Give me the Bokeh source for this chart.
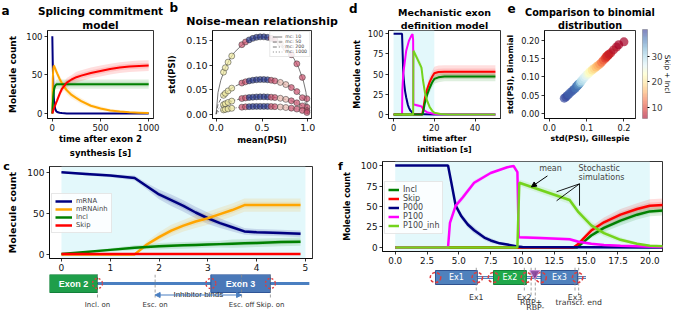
import math
import numpy as np
from bokeh.plotting import figure
from bokeh.layouts import column, row
from bokeh.models import (Range1d, FixedTicker, PrintfTickFormatter, Label, BoxAnnotation, Title,
                          Arrow, NormalHead, ColorBar, LinearColorMapper, ColumnDataSource)
from bokeh.core.properties import value
from bokeh.embed import file_html
from bokeh.resources import INLINE

# ======================= DATA =======================
# (a) splicing commitment model
a_t = [0, 5, 10, 15, 20, 30, 40, 50, 75, 100, 150, 200, 250, 300, 400, 500, 600, 700, 800, 900, 1000]
a_mrna = [100, 62, 38, 22, 13, 6, 3, 2, 1, 0.5, 0, 0, 0, 0, 0, 0, 0, 0, 0, 0, 0]
a_inh = [0, 45, 58, 62, 61, 58, 55, 52, 45, 39, 30, 24, 20, 16, 10, 6.5, 4, 2.5, 1.5, 1, 0.5]
a_incl = [0, 12, 22, 28, 32, 36, 37.5, 38, 38, 38, 38, 38, 38, 38, 38, 38, 38, 38, 38, 38, 38]
a_skip = [0, 2, 4, 6, 7.5, 11, 14, 17, 25, 32, 40, 44, 47, 49, 52.5, 55, 57.5, 59.5, 60.8, 61.5, 62]
a_sd_inh = [0, 4, 5, 5, 5, 5, 5, 5, 5, 5, 5, 5, 4, 4, 3, 3, 2, 2, 1, 1, 1]
a_sd_incl = [0, 3, 4, 5, 5, 5, 6, 6, 6, 6, 6, 6, 6, 6, 6, 6, 6, 6, 6, 6, 6]
a_sd_skip = [0, 1, 2, 2, 3, 3, 4, 4, 5, 5, 6, 6, 7, 7, 7, 7, 7, 7, 7, 7, 7]
a_xticks = [0, 500, 1000]
a_yticks = [0, 50, 100]

# (b) noise-mean relationship
b_p = [0, 0.02, 0.05, 0.1, 0.15, 0.2, 0.3, 0.4, 0.5, 0.6, 0.7, 0.8, 0.85, 0.9, 0.95, 0.98, 1.0]
b_c10 = [0, 0.0443, 0.0689, 0.0949, 0.1129, 0.1265, 0.1449, 0.1549, 0.1581, 0.1549, 0.1449, 0.1265, 0.1129, 0.0949, 0.0689, 0.0443, 0]
b_c50 = [0, 0.0198, 0.0308, 0.0424, 0.0505, 0.0566, 0.0648, 0.0693, 0.0707, 0.0693, 0.0648, 0.0566, 0.0505, 0.0424, 0.0308, 0.0198, 0]
b_c200 = [0, 0.0099, 0.0154, 0.0212, 0.0252, 0.0283, 0.0324, 0.0346, 0.0354, 0.0346, 0.0324, 0.0283, 0.0252, 0.0212, 0.0154, 0.0099, 0]
b_c1000 = [0, 0.0044, 0.0069, 0.0095, 0.0113, 0.0126, 0.0145, 0.0155, 0.0158, 0.0155, 0.0145, 0.0126, 0.0113, 0.0095, 0.0069, 0.0044, 0]
b_mc_labels = ["mc: 10", "mc: 50", "mc: 200", "mc: 1000"]
b_mean = [0.08, 0.10, 0.13, 0.17, 0.28, 0.32, 0.36, 0.40, 0.44, 0.48, 0.52, 0.56, 0.60, 0.64, 0.70, 0.76, 0.82, 0.88, 0.94, 0.99]
b_s10 = [0.0858, 0.0949, 0.1063, 0.1188, 0.1420, 0.1475, 0.1518, 0.1549, 0.1570, 0.1580, 0.1580, 0.1570, 0.1549, 0.1518, 0.1449, 0.1350, 0.1215, 0.1028, 0.0751, 0.0315]
b_s50 = [0.0384, 0.0424, 0.0475, 0.0531, 0.0635, 0.0660, 0.0679, 0.0693, 0.0702, 0.0707, 0.0707, 0.0702, 0.0693, 0.0679, 0.0648, 0.0604, 0.0543, 0.0460, 0.0336, 0.0141]
b_s200 = [0.0192, 0.0212, 0.0238, 0.0266, 0.0318, 0.0330, 0.0339, 0.0346, 0.0351, 0.0353, 0.0353, 0.0351, 0.0346, 0.0339, 0.0324, 0.0302, 0.0272, 0.0230, 0.0168, 0.0070]
b_s1000 = [0.0086, 0.0095, 0.0106, 0.0119, 0.0142, 0.0148, 0.0152, 0.0155, 0.0157, 0.0158, 0.0158, 0.0157, 0.0155, 0.0152, 0.0145, 0.0135, 0.0122, 0.0103, 0.0075, 0.0032]
b_group = ["lo", "lo", "lo", "lo", "mid", "mid", "hi", "hi", "hi", "hi", "hi", "hi", "mid", "mid", "pale", "pale", "mid", "mid", "mid", "mid"]
b_xticks = [0, 0.5, 1.0]
b_yticks = [0, 0.05, 0.10, 0.15]

# (c) zoom of (a)
c_t = [0, 0.5, 1.0, 1.5, 1.75, 2.0, 2.25, 2.5, 2.75, 3.0, 3.25, 3.5, 3.75, 4.0, 4.5, 4.9]
c_mrna = [100, 98, 96, 93, 83, 73, 66, 59, 51, 44, 38, 33, 28, 27, 26, 25]
c_inh = [0, 0, 0, 0, 12, 21, 29, 35, 40, 44, 49, 54, 60, 60, 60, 60]
c_incl = [0.5, 3, 5.5, 8, 9, 10, 10.5, 11, 11.5, 12, 12.5, 13, 13.5, 14, 15, 15.5]
c_skip = [0.5, 0.5, 0.5, 0.5, 0.5, 0.5, 0.5, 0.5, 0.5, 0.5, 0.5, 0.5, 0.5, 0.5, 0.5, 0.5]
c_sd_mrna = [1, 2, 2, 3, 4, 6, 7, 7, 7, 7, 6, 5, 4, 4, 4, 4]
c_sd_inh = [0, 0, 0, 0, 4, 6, 7, 7, 8, 8, 8, 8, 8, 8, 8, 8]
c_sd_incl = [0.5, 1, 2, 3, 3, 4, 4, 4, 4, 4, 4, 5, 5, 5, 5, 5]
c_xticks = [0, 1, 2, 3, 4, 5]
c_yticks = [0, 50, 100]
c_exon3 = (2.95, 4.5)
c_sites = [0, 2.95, 4.5]
c_events_t = [0, 1.5, 3.75, 4.5]
c_events_lab = ["Incl. on", "Esc. on", "Esc. off", "Skip. on"]
c_inhib = (1.5, 3.75)

# (d)/(f) mechanistic exon definition model
f_t_p000 = [0, 4.15, 4.4, 4.75, 5.2, 5.7, 6.2, 7.0, 7.5, 8.2, 8.8, 9.6, 10.0, 20, 50]
f_p000 = [100, 100, 80, 51, 38, 28, 21, 12, 8.5, 5, 3.5, 1.2, 0.5, 0, 0]
f_sd_p000 = [0, 0, 3, 4, 4, 4, 4, 3, 3, 2, 2, 1, 0.5, 0, 0]
f_t_p100 = [0, 4.15, 4.3, 4.75, 5.3, 6.2, 7.5, 8.8, 9.3, 9.6, 9.7, 11.4, 13.7, 14.4, 15.4, 16.4, 17.7, 19.5, 22, 50]
f_p100 = [0, 0, 30, 51, 61, 79, 91, 98, 99.5, 92, 12.5, 11.5, 10, 7, 4.4, 2.8, 2, 1, 0.3, 0]
f_sd_p100 = [0, 0, 3, 4, 4, 3, 2, 1, 1, 2, 2, 2, 2, 2, 1.5, 1, 1, 0.5, 0.3, 0]
f_t_inh = [0, 9.6, 9.75, 13.7, 14.4, 15.4, 16.4, 17.7, 19.0, 20.0, 23, 27, 50]
f_inh = [0, 0, 79, 58, 43, 27, 17.4, 9.3, 4.4, 2, 0.5, 0, 0]
f_sd_inh = [0, 0, 4, 5, 5, 5, 4, 3, 2, 1.5, 0.5, 0, 0]
f_t_skip = [0, 14.0, 14.4, 15.4, 16.4, 17.7, 19.0, 20.0, 22, 25, 30, 50]
f_skip = [0, 0, 4.5, 20.6, 30.7, 40, 47, 51, 52.5, 53, 53, 53]
f_sd_skip = [0, 0, 2, 5, 6, 7, 7, 8, 8, 8, 8, 8]
f_t_incl = [0, 14.3, 15.4, 16.4, 17.7, 19.0, 20.0, 22, 25, 30, 50]
f_incl = [0, 0, 14.6, 23.9, 32.8, 40, 44, 46, 47, 47, 47]
f_sd_incl = [0, 0, 3, 5, 6, 6, 6, 6, 6, 6, 6]
d_xticks = [0, 20, 40]
d_yticks = [0, 25, 50, 75, 100]
f_xticks = [0, 2.5, 5, 7.5, 10, 12.5, 15, 17.5, 20]
f_yticks = [0, 25, 50, 75, 100]
f_exons = [(0.3, 4.3, "Ex1"), (5.85, 9.0, "Ex2"), (10.4, 13.9, "Ex3")]
f_sites = [0.3, 4.3, 5.85, 9.0, 10.4, 13.9]
f_ev_t = [4.2, 8.8, 9.45, 9.85, 13.65, 14.0]
f_ev_lab = ["Ex1", "Ex2", "RBP+", "RBP-", "Ex3", "transcr. end"]
f_ev_row = [0, 0, 1, 2, 0, 1]
f_rbp_t = 9.8

# (e) comparison to binomial distribution
e_gill = [0.040, 0.044, 0.048, 0.052, 0.057, 0.062, 0.066, 0.070, 0.073, 0.075, 0.077, 0.078, 0.080,
          0.083, 0.086, 0.090, 0.094, 0.098, 0.102, 0.106, 0.110, 0.115, 0.120, 0.125, 0.130, 0.135,
          0.140, 0.145, 0.150, 0.152, 0.154, 0.156, 0.158, 0.160, 0.165, 0.172, 0.180, 0.186, 0.200]
e_binom = [0.042, 0.045, 0.049, 0.053, 0.058, 0.062, 0.066, 0.070, 0.074, 0.076, 0.078, 0.080, 0.081,
           0.085, 0.089, 0.094, 0.099, 0.103, 0.107, 0.111, 0.115, 0.119, 0.123, 0.127, 0.131, 0.135,
           0.140, 0.146, 0.151, 0.154, 0.156, 0.158, 0.160, 0.162, 0.166, 0.174, 0.182, 0.188, 0.196]
e_count = [39, 39, 39, 38, 38, 38, 38, 37, 37, 37, 36, 36, 35, 31, 29, 28, 27, 26, 25, 23, 22, 20, 19,
           17, 16, 15, 13, 12, 10, 10, 9, 9, 9, 8, 8, 7, 7, 6, 6]
e_cbar_range = (5.5, 40.5)
e_cbar_ticks = [10, 20, 30]
e_xticks = [0, 0.1, 0.2]
e_yticks = [0, 0.05, 0.10, 0.15, 0.20]

# ======================= STYLE / LAYOUT =======================
FONT = "DejaVu Sans"
NAVY, ORANGE, GREEN, RED, MAGENTA, LIME = "#000080", "#FFA500", "#008000", "#FF0000", "#FF00FF", "#74d31c"
CYAN = "#e3f8fb"
RDYLBU = ['#a50026', '#d73027', '#f46d43', '#fdae61', '#fee090', '#ffffbf',
          '#e0f3f8', '#abd9e9', '#74add1', '#4575b4', '#313695']
SPLIT = 159  # boundary between the top and the bottom row of panels


def smooth_palette(anchors, n):
    rgb = np.array([[int(c[i:i + 2], 16) for i in (1, 3, 5)] for c in anchors], dtype=float)
    pos = np.linspace(0, 1, len(anchors))
    out = []
    for s in np.linspace(0, 1, n):
        v = [int(round(np.interp(s, pos, rgb[:, k]))) for k in range(3)]
        out.append("#%02x%02x%02x" % tuple(v))
    return out


def px(v):
    return f"{v:.1f}px"


class Panel:
    def __init__(self, canvas, frame, xr, yr, axes=True):
        L, T, R, B = canvas
        l, t, r, b = frame
        self.frame, self.xr, self.yr = frame, xr, yr
        extra = {} if axes else dict(x_axis_location=None, y_axis_location=None)
        p = figure(width=R - L, height=B - T, x_range=Range1d(*xr), y_range=Range1d(*yr),
                   min_border_left=l - L, min_border_right=R - r,
                   min_border_top=t - T, min_border_bottom=B - b,
                   output_backend="svg", toolbar_location=None, title=None, **extra)
        p.grid.visible = False
        p.background_fill_color = "white"
        p.border_fill_color = "white"
        p.outline_line_color = "black" if axes else None
        p.outline_line_width = 0.8
        self.p = p

    def d(self, X, Y):
        l, t, r, b = self.frame
        x = self.xr[0] + (X - l) / (r - l) * (self.xr[1] - self.xr[0])
        y = self.yr[1] - (Y - t) / (b - t) * (self.yr[1] - self.yr[0])
        return x, y


def style_axes(p, xticks, yticks, size, xfmt=None, yfmt=None):
    p.xaxis.ticker = FixedTicker(ticks=xticks)
    p.yaxis.ticker = FixedTicker(ticks=yticks)
    if xfmt:
        p.xaxis.formatter = PrintfTickFormatter(format=xfmt)
    if yfmt:
        p.yaxis.formatter = PrintfTickFormatter(format=yfmt)
    for ax in list(p.xaxis) + list(p.yaxis):
        ax.axis_line_color = "black"
        ax.axis_line_width = 0.8
        ax.major_tick_line_color = "black"
        ax.major_tick_line_width = 0.8
        ax.major_tick_out = 3
        ax.major_tick_in = 0
        ax.minor_tick_line_color = None
        ax.major_label_text_font = FONT
        ax.major_label_text_font_size = px(size)
        ax.major_label_text_color = "#111111"
        ax.major_label_standoff = 2
        ax.axis_label_text_font = FONT
        ax.axis_label_text_font_style = "bold"
        ax.axis_label_text_color = "black"


def axis_title(ax, text, size, standoff):
    ax.axis_label = text
    ax.axis_label_text_font_size = px(size)
    ax.axis_label_standoff = standoff


def title(p, text, size, side="above", standoff=0):
    p.add_layout(Title(text=text, text_font=FONT, text_font_size=px(size), text_font_style="bold",
                       align="center", standoff=standoff, text_color="black"), side)


def side_lab(P, side, X, Y, text, size, bold=True, angle=0.0):
    # label kept in a side panel (not clipped by the frame), placed through the data scales
    x, y = P.d(X, Y)
    P.p.add_layout(Label(x=x, y=y, text=text, text_font=FONT, text_font_size=px(size),
                         text_font_style="bold" if bold else "normal", text_align="center",
                         text_baseline="middle", angle=angle, text_color="black"), side)


def band(p, t, m, s, color, alpha=0.13):
    for k in (1.0, 0.5):
        lo = [mi - k * si for mi, si in zip(m, s)]
        hi = [mi + k * si for mi, si in zip(m, s)]
        p.varea(x=t, y1=lo, y2=hi, fill_color=color, fill_alpha=alpha)


def style_legend(leg, size, glyph_w, row_h, loc):
    leg.location = loc
    leg.label_text_font = FONT
    leg.label_text_font_size = px(size)
    leg.glyph_width = glyph_w
    leg.glyph_height = row_h
    leg.label_height = row_h
    leg.spacing = 0
    leg.padding = 3
    leg.margin = 1
    leg.label_standoff = 4
    leg.border_line_color = "#d0d0d0"
    leg.border_line_width = 0.8
    leg.background_fill_alpha = 0.85


# ---------- panel geometry (page px) ----------
A = Panel((0, 0, 164, SPLIT), (47, 29, 153, 123), (-50, 1050), (-6.5, 107.5))
B = Panel((164, 0, 340, SPLIT), (209, 30, 311, 122), (-0.04, 1.04), (-0.009, 0.171))
D = Panel((340, 0, 503, SPLIT), (382, 29, 500, 118), (-2.5, 52.5), (-5, 104))
E = Panel((503, 0, 675, SPLIT), (541, 29, 635, 118), (-0.013, 0.231), (-0.0135, 0.227))
C = Panel((0, SPLIT, 334, 274), (49, 166, 312, 258), (-0.245, 5.145), (-5, 107))
F = Panel((334, SPLIT, 675, 267), (382, 161, 662, 251), (-1, 21), (-5, 105))
_cppu = (312 - 49) / (5.145 + 0.245)
CD = Panel((0, 274, 334, 312), (0, 274, 334, 312),
           (-0.245 - 49 / _cppu, 5.145 + (334 - 312) / _cppu), (312, 274), axes=False)
_fppu = (662 - 382) / 22.0
FD = Panel((334, 267, 675, 312), (334, 267, 675, 312),
           (-1 - (382 - 334) / _fppu, 21 + (675 - 662) / _fppu), (312, 267), axes=False)

# ======================= (a) =======================
pa = A.p
style_axes(pa, a_xticks, a_yticks, 8.5)
axis_title(pa.yaxis[0], "Molecule count", 9, 5)
axis_title(pa.xaxis[0], "time after exon 2", 8.5, 0)
title(pa, "model", 10.5)
title(pa, "Splicing commitment", 10.5)
title(pa, "synthesis [s]", 8.5, side="below", standoff=-2)
band(pa, a_t, a_inh, a_sd_inh, ORANGE)
band(pa, a_t, a_incl, a_sd_incl, GREEN)
band(pa, a_t, a_skip, a_sd_skip, RED)
pa.line(a_t, a_mrna, line_color=NAVY, line_width=2)
pa.line(a_t, a_inh, line_color=ORANGE, line_width=2)
pa.line(a_t, a_incl, line_color=GREEN, line_width=2)
pa.line(a_t, a_skip, line_color=RED, line_width=2)
side_lab(A, "right", 5, 8, "a", 12)

# ======================= (b) =======================
pb = B.p
style_axes(pb, b_xticks, b_yticks, 9.5, xfmt="%.1f", yfmt="%.2f")
axis_title(pb.yaxis[0], "std(PSI)", 8.5, 6)
axis_title(pb.xaxis[0], "mean(PSI)", 8.5, 1)
title(pb, "Noise-mean relationship", 11, standoff=6)
dashes = ["solid", "4 2", "4 2 1 2", "1 2"]
for ys, lbl, dsh in zip([b_c10, b_c50, b_c200, b_c1000], b_mc_labels, dashes):
    pb.line(b_p, ys, line_color="#555555", line_width=0.8, line_dash=dsh, legend_label=lbl)
gcol = {"lo": "#efe9a0", "mid": "#c9506c", "hi": "#2a3990", "pale": "#e8b8ae"}
cols = [gcol[g] for g in b_group]
for ys in [b_s10, b_s50, b_s200, b_s1000]:
    pb.scatter(b_mean, ys, size=6, fill_color=cols, fill_alpha=0.7, line_color="#333333", line_width=0.5)
leg = pb.legend[0]
style_legend(leg, 4.6, 10, 5, "top_right")
leg.padding = 2
leg.label_standoff = 3
side_lab(B, "right", 169, 6, "b", 12)

# ======================= (d) =======================
pd_ = D.p
style_axes(pd_, d_xticks, d_yticks, 8.2)
axis_title(pd_.yaxis[0], "Molecule count", 8, 3)
axis_title(pd_.xaxis[0], "time after", 7.8, 0)
title(pd_, "definition model", 9.5)
title(pd_, "Mechanistic exon", 9.5)
title(pd_, "initiation [s]", 7.8, side="below", standoff=-5)
pd_.add_layout(BoxAnnotation(left=0, right=20, fill_color=CYAN, fill_alpha=1.0, line_color=None, level="underlay"))
for t, m, s, c in [(f_t_p000, f_p000, f_sd_p000, NAVY), (f_t_p100, f_p100, f_sd_p100, MAGENTA),
                   (f_t_inh, f_inh, f_sd_inh, LIME), (f_t_skip, f_skip, f_sd_skip, RED),
                   (f_t_incl, f_incl, f_sd_incl, GREEN)]:
    band(pd_, t, m, s, c)
for t, m, c in [(f_t_p000, f_p000, NAVY), (f_t_p100, f_p100, MAGENTA), (f_t_skip, f_skip, RED),
                (f_t_incl, f_incl, GREEN), (f_t_inh, f_inh, LIME)]:
    pd_.line(t, m, line_color=c, line_width=2)
side_lab(D, "left", 345, 7, "d", 12)

# ======================= (e) =======================
pe = E.p
style_axes(pe, e_xticks, e_yticks, 8.2, xfmt="%.1f", yfmt="%.2f")
axis_title(pe.yaxis[0], "std(PSI), Binomial", 7.8, 3)
axis_title(pe.xaxis[0], "std(PSI), Gillespie", 7.8, 0)
title(pe, "distribution", 9.7)
title(pe, "Comparison to binomial", 9.7)
mapper = LinearColorMapper(palette=smooth_palette(RDYLBU, 64), low=e_cbar_range[0], high=e_cbar_range[1])
esrc = ColumnDataSource(dict(x=e_gill, y=e_binom, count=e_count))
pe.scatter("x", "y", source=esrc, size=9, fill_color={"field": "count", "transform": mapper},
           fill_alpha=0.7, line_color=None)
cb = ColorBar(color_mapper=mapper, ticker=FixedTicker(ticks=e_cbar_ticks), width=5,
              height=118 - 29, location=(7, 0), padding=0, margin=0,
              major_tick_out=2, major_tick_in=0, major_tick_line_color="black",
              minor_tick_line_color=None, bar_line_color="#444444", bar_line_width=0.5,
              label_standoff=2, major_label_text_font=FONT, major_label_text_font_size=px(8.8),
              background_fill_alpha=0, border_line_color=None, scale_alpha=0.6)
pe.add_layout(cb, "right")
side_lab(E, "right", 668, 73, "Skip + Incl", 7.2, bold=False, angle=-math.pi / 2)
side_lab(E, "below", 507, 7, "e", 12)

# ======================= (c) =======================
pc = C.p
style_axes(pc, c_xticks, c_yticks, 9)
axis_title(pc.yaxis[0], "Molecule count", 9.5, 6)
pc.add_layout(BoxAnnotation(left=0, right=5, fill_color=CYAN, fill_alpha=1.0, line_color=None, level="underlay"))
band(pc, c_t, c_mrna, c_sd_mrna, NAVY)
band(pc, c_t, c_inh, c_sd_inh, ORANGE)
band(pc, c_t, c_incl, c_sd_incl, GREEN)
pc.line(c_t, c_mrna, line_color=NAVY, line_width=2.5, legend_label="mRNA")
pc.line(c_t, c_inh, line_color=ORANGE, line_width=2.5, legend_label="mRNAinh")
pc.line(c_t, c_incl, line_color=GREEN, line_width=2.5, legend_label="Incl")
pc.line(c_t, c_skip, line_color=RED, line_width=2.5, legend_label="Skip")
style_legend(pc.legend[0], 6.8, 17, 8, (2, 25))
side_lab(C, "right", 6, 166, "c", 11)

# ---- (c) gene diagram ----
pcd = CD.p
x0 = CD.xr[0]
pcd.segment(x0=[0], y0=[283], x1=[CD.d(330, 0)[0]], y1=[283], line_color="#4a7fc1", line_width=3)
pcd.quad(left=[x0], right=[0], top=[274], bottom=[292], fill_color="#1e9e4a", line_color="#12803a", line_width=1)
pcd.quad(left=[c_exon3[0]], right=[c_exon3[1]], top=[274], bottom=[292], fill_color="#4a78b8",
         line_color="#2f5597", line_width=1)
pcd.text(x=[(x0 + 0) / 2, sum(c_exon3) / 2], y=[283, 283], text=["Exon 2", "Exon 3"],
         text_font=value("Liberation Sans"), text_font_style="bold", text_font_size=px(9),
         text_color="white", text_align="center", text_baseline="middle")
pcd.segment(x0=c_events_t, y0=[274] * 4, x1=c_events_t, y1=[298] * 4, line_color="#8a8a8a",
            line_width=0.8, line_dash="3 2")
pcd.scatter(c_sites, [283] * 3, size=10, fill_color=None, line_color="#e03c3c", line_width=1.3, line_dash="2 2")
pcd.add_layout(Arrow(start=NormalHead(size=5, fill_color="#4a7fc1", line_color="#4a7fc1"),
                     end=NormalHead(size=5, fill_color="#4a7fc1", line_color="#4a7fc1"),
                     x_start=c_inhib[0], y_start=294.5, x_end=c_inhib[1], y_end=294.5,
                     line_color="#4a7fc1", line_width=1.2))
pcd.text(x=[sum(c_inhib) / 2], y=[294], text=["Inhibitor binds"], text_font=value("Liberation Sans"),
         text_font_size=px(8), text_color="#222222", text_align="center", text_baseline="middle")
pcd.text(x=c_events_t, y=[304] * 4, text=c_events_lab, text_font=value(FONT), text_font_size=px(7),
         text_color="#333333", text_align="center", text_baseline="middle")

# ======================= (f) =======================
pf = F.p
style_axes(pf, f_xticks, f_yticks, 8.8, xfmt="%.1f")
axis_title(pf.yaxis[0], "Molecule count", 8, 6)
pf.add_layout(BoxAnnotation(left=0, right=20, fill_color=CYAN, fill_alpha=1.0, line_color=None, level="underlay"))
for t, m, s, c in [(f_t_p000, f_p000, f_sd_p000, NAVY), (f_t_p100, f_p100, f_sd_p100, MAGENTA),
                   (f_t_inh, f_inh, f_sd_inh, LIME), (f_t_skip, f_skip, f_sd_skip, RED),
                   (f_t_incl, f_incl, f_sd_incl, GREEN)]:
    band(pf, t, m, s, c)
pf.line(f_t_incl, f_incl, line_color=GREEN, line_width=2.5, legend_label="Incl")
pf.line(f_t_skip, f_skip, line_color=RED, line_width=2.5, legend_label="Skip")
pf.line(f_t_p000, f_p000, line_color=NAVY, line_width=2.5, legend_label="P000")
pf.line(f_t_p100, f_p100, line_color=MAGENTA, line_width=2.5, legend_label="P100")
pf.line(f_t_inh, f_inh, line_color=LIME, line_width=2.5, legend_label="P100_inh")
style_legend(pf.legend[0], 8, 11, 9, (2, 17))
pf.add_layout(Label(x=12.2, y=96, text="mean", text_font=FONT, text_font_size=px(8),
                    text_align="center", text_baseline="middle"))
pf.add_layout(Arrow(end=NormalHead(size=5, fill_color="black", line_color="black"),
                    x_start=11.96, y_start=87.4, x_end=10.7, y_end=74, line_width=1))
pf.add_layout(Label(x=14.4, y=97, text="Stochastic", text_font=FONT, text_font_size=px(8),
                    text_align="left", text_baseline="middle"))
pf.add_layout(Label(x=14.4, y=85, text="simulations", text_font=FONT, text_font_size=px(8),
                    text_align="left", text_baseline="middle"))
pf.segment(x0=[14.48, 14.48, 14.48], y0=[77.7, 77.7, 77.7], x1=[12.68, 12.68, 14.48], y1=[68, 57, 51],
           line_color="black", line_width=0.9)
side_lab(F, "left", 340, 166, "f", 11)

# ---- (f) gene diagram ----
pfd = FD.p
pfd.segment(x0=[f_sites[0]], y0=[277], x1=[14.7], y1=[277], line_color="#4f81bd", line_width=3)
pfd.segment(x0=[f_sites[0]], y0=[277], x1=[14.7], y1=[277], line_color="white", line_width=0.8)
pfd.quad(left=[e[0] for e in f_exons], right=[e[1] for e in f_exons], top=[270] * 3, bottom=[284] * 3,
         fill_color=["#4f81bd", "#1fa84a", "#4f81bd"], line_color=["#2f528f", "#13803a", "#2f528f"], line_width=1)
pfd.text(x=[(e[0] + e[1]) / 2 for e in f_exons], y=[277] * 3, text=[e[2] for e in f_exons],
         text_font=value(FONT), text_font_size=px(8), text_color="white", text_align="center",
         text_baseline="middle")
pfd.segment(x0=f_ev_t, y0=[267] * 6, x1=f_ev_t, y1=[291 + 4 * r for r in f_ev_row], line_color="#8a8a8a",
            line_width=0.8, line_dash="3 2")
pfd.ellipse(x=f_sites, y=[277] * 6, width=1.0, height=10, fill_color=None, line_color="#e03c3c",
            line_width=1.5, line_dash="3 2")
pfd.scatter([f_rbp_t], [273], marker="inverted_triangle", size=10, fill_color="#7a2f8f", fill_alpha=0.85,
            line_color="#c58ad6", line_width=1)
pfd.text(x=f_ev_t, y=[297 + 5 * r for r in f_ev_row], text=f_ev_lab, text_font=value(FONT),
         text_font_size=px(7.8), text_color="#333333", text_align="center", text_baseline="middle")

# ======================= assemble =======================
layout = column(row(pa, pb, pd_, pe), row(column(pc, pcd), column(pf, pfd)))
open("out.html", "w").write(file_html(layout, INLINE))
